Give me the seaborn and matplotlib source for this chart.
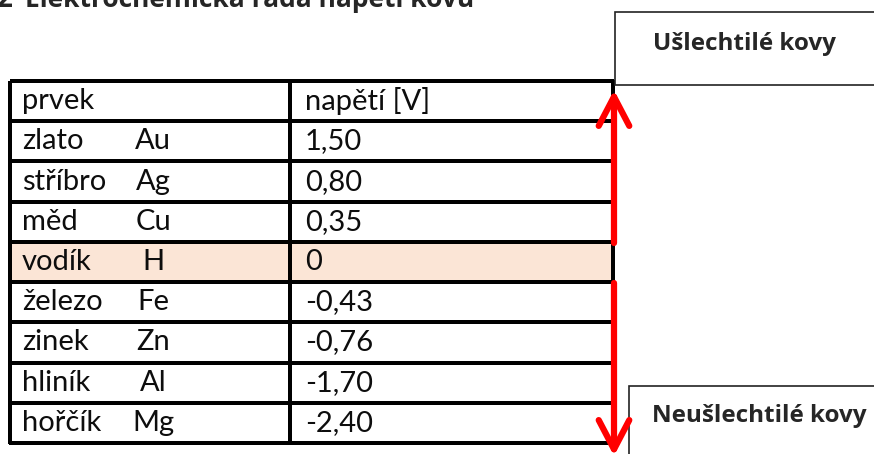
import numpy as np
import pandas as pd
import matplotlib.pyplot as plt
from matplotlib.colors import ListedColormap
from matplotlib.patches import Rectangle
import seaborn as sns

# data
prvky = ['zlato', 'stříbro', 'měd', 'vodík', 'železo', 'zinek', 'hliník', 'hořčík']
znacky = ['Au', 'Ag', 'Cu', 'H', 'Fe', 'Zn', 'Al', 'Mg']
napeti = [1.50, 0.80, 0.35, 0.0, -0.43, -0.76, -1.70, -2.40]
hlavicka = ['prvek', 'napětí [V]']
titulek = 'Elektrochemická řada napětí kovů'
popisky = ['Ušlechtilé kovy', 'Neušlechtilé kovy']

sns.set_theme(style='white')
plt.rcParams['font.family'] = ['Lato', 'DejaVu Sans']

W, H = 874, 454
fig = plt.figure(figsize=(W / 100, H / 100), dpi=100)

def fmt(v):
    if v == 0:
        return '0'
    return f'{v:.2f}'.replace('.', ',')

# highlight row for hydrogen (voltage 0)
zvyrazneni = np.array([0] + [1 if v == 0 else 0 for v in napeti]).reshape(-1, 1)
cmap = ListedColormap(['white', '#FBE5D6'])

top, bottom = 81, 443
cols = [(10, 290), (290, 613)]
axes = []
for (x0, x1) in cols:
    ax = fig.add_axes([x0 / W, (H - bottom) / H, (x1 - x0) / W, (bottom - top) / H])
    sns.heatmap(zvyrazneni, ax=ax, cmap=cmap, vmin=0, vmax=1, cbar=False,
                linewidths=1.5, linecolor='black', xticklabels=False, yticklabels=False)
    ax.collections[0].set_clip_on(False)
    axes.append(ax)

fs = 21
tc = '#0d0d0d'
ax1, ax2 = axes
ax1.text(12 / 280, 0.5, hlavicka[0], va='center', ha='left', fontsize=fs, color=tc)
ax2.text(15 / 323, 0.5, hlavicka[1], va='center', ha='left', fontsize=fs, color=tc)
for i, (p, z, v) in enumerate(zip(prvky, znacky, napeti), start=1):
    ax1.text(12 / 280, i + 0.5, p, va='center', ha='left', fontsize=fs, color=tc)
    ax1.text(143 / 280, i + 0.5, z, va='center', ha='center', fontsize=fs, color=tc)
    ax2.text(15 / 323, i + 0.5, fmt(v), va='center', ha='left', fontsize=fs, color=tc)

# overlay in pixel coordinates
ov = fig.add_axes([0, 0, 1, 1], zorder=5)
ov.set_xlim(0, W)
ov.set_ylim(H, 0)
ov.axis('off')

bold = ['Open Sans', 'DejaVu Sans']
ov.text(-3, 7, '2', fontsize=20, fontweight='bold', va='baseline', ha='left', family=bold)
ov.text(25, 7, titulek, fontsize=19, fontweight='bold', va='baseline', ha='left', family=bold)

ov.add_patch(Rectangle((615, 12), 270, 73, facecolor='white', edgecolor='#222222', lw=1.2))
ov.text(744, 44, popisky[0], fontsize=17.5, fontweight='bold', ha='center', va='center',
        family=bold)
ov.add_patch(Rectangle((629, 386), 270, 100, facecolor='white', edgecolor='#222222', lw=1.2))
ov.text(759, 416, popisky[1], fontsize=17.5, fontweight='bold', ha='center', va='center',
        family=bold)

arrow = dict(arrowstyle='->,head_length=1.05,head_width=0.55', color='red', lw=4.5,
             shrinkA=0, shrinkB=0, mutation_scale=20)
ov.annotate('', xy=(614, 90), xytext=(614, 243), arrowprops=arrow, annotation_clip=False)
ov.annotate('', xy=(614, 456), xytext=(614, 283), arrowprops=arrow, annotation_clip=False)

fig.savefig('out.png', dpi=100)
